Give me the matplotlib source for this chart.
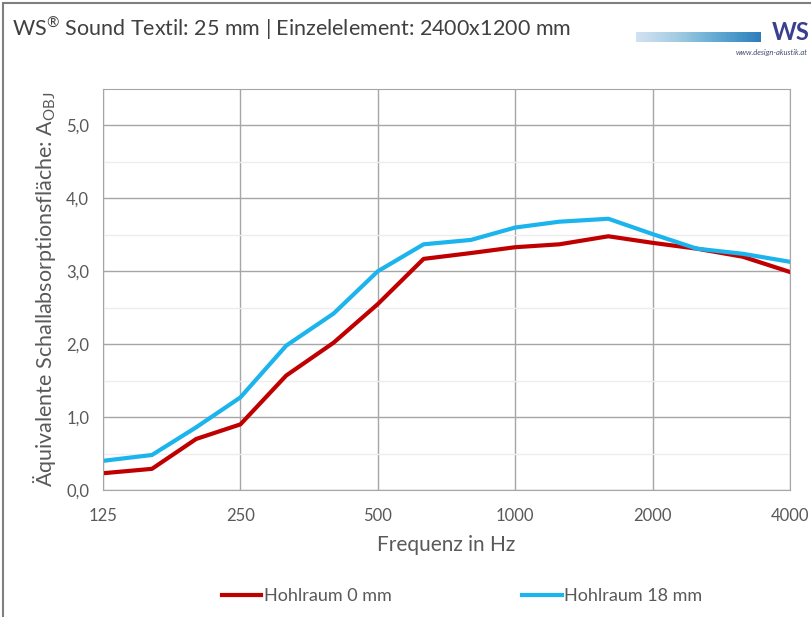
import numpy as np
import matplotlib.pyplot as plt
from matplotlib.patches import Rectangle

plt.rcParams['font.family'] = ['Lato', 'DejaVu Sans']
plt.rcParams['mathtext.fontset'] = 'custom'
plt.rcParams['mathtext.rm'] = 'Lato'

# Terzband-Frequenzen und Messwerte
freq = [125, 160, 200, 250, 315, 400, 500, 630, 800, 1000, 1250, 1600, 2000, 2500, 3150, 4000]
hohlraum_0 = [0.23, 0.29, 0.70, 0.90, 1.57, 2.02, 2.55, 3.17, 3.25, 3.33, 3.37, 3.48, 3.39, 3.31, 3.20, 2.99]
hohlraum_18 = [0.40, 0.48, 0.86, 1.27, 1.98, 2.42, 3.00, 3.37, 3.43, 3.60, 3.68, 3.72, 3.51, 3.31, 3.24, 3.13]
xticks = [125, 250, 500, 1000, 2000, 4000]
yticks = [0, 1, 2, 3, 4, 5]

grey = '#595959'
W, H = 811, 617
fig = plt.figure(figsize=(W / 100, H / 100), dpi=100)

# Rahmen links/oben
fig.add_artist(Rectangle((3 / W, -0.1), 1.2, 1 - 3 / H + 0.1, transform=fig.transFigure,
                         fill=False, edgecolor='#7f7f7f', linewidth=1.5))

ax = fig.add_axes([103 / W, 1 - 490 / H, (790 - 103) / W, (490 - 89) / H])
ax.plot(freq, hohlraum_0, color='#C00000', linewidth=3, label='Hohlraum 0 mm')
ax.plot(freq, hohlraum_18, color='#1CB4EC', linewidth=3, label='Hohlraum 18 mm')

ax.set_xscale('log', base=2)
ax.set_xlim(125, 4000)
ax.set_ylim(0, 5.5)
ax.set_xticks(xticks)
ax.set_xticklabels([str(v) for v in xticks])
ax.minorticks_off()
ax.set_yticks(yticks)
ax.set_yticklabels([f'{v:.1f}'.replace('.', ',') for v in yticks])
ax.set_yticks(np.arange(0.5, 5.5, 1.0), minor=True)
ax.grid(True, which='major', color='#a6a6a6', linewidth=1)
ax.grid(True, which='minor', axis='y', color='#ededed', linewidth=1)
ax.tick_params(axis='both', which='both', length=0, labelsize=12, colors=grey)
ax.tick_params(axis='x', pad=13)
ax.tick_params(axis='y', pad=10)
for s in ax.spines.values():
    s.set_color('#a6a6a6')

ax.set_xlabel('Frequenz in Hz', fontsize=15, color=grey, labelpad=8)
ax.set_ylabel(r'Äquivalente Schallabsorptionsfläche: A$_{\mathrm{OBJ}}$', fontsize=15.5,
              color=grey, labelpad=6)

fig.text(12 / W, 1 - 28 / H, r'WS$^{\mathrm{®}}$ Sound Textil: 25 mm | Einzelelement: 2400x1200 mm',
         fontsize=15.5, color='#404040', va='center', ha='left')

# Logo (vereinfacht)
grad = np.linspace(0, 1, 100).reshape(1, -1)
lax = fig.add_axes([636 / W, 1 - 42 / H, 125 / W, 10 / H])
lax.imshow(grad, aspect='auto', cmap='Blues', vmin=-0.4, vmax=1.6)
lax.axis('off')
fig.text(772 / W, 1 - 33 / H, 'WS', fontsize=17, color='#3a3f8f', fontweight='bold',
         va='center', ha='left')
fig.text(808 / W, 1 - 53 / H, 'www.design-akustik.at', fontsize=5.5, color='#404a70',
         style='italic', va='center', ha='right')

fig.legend(loc='center', bbox_to_anchor=(462 / W, 1 - 596 / H), ncol=2, frameon=False,
           fontsize=13, labelcolor=grey, handlelength=2.2, handletextpad=0.15,
           columnspacing=7.2)

fig.savefig('out.png', dpi=100)
